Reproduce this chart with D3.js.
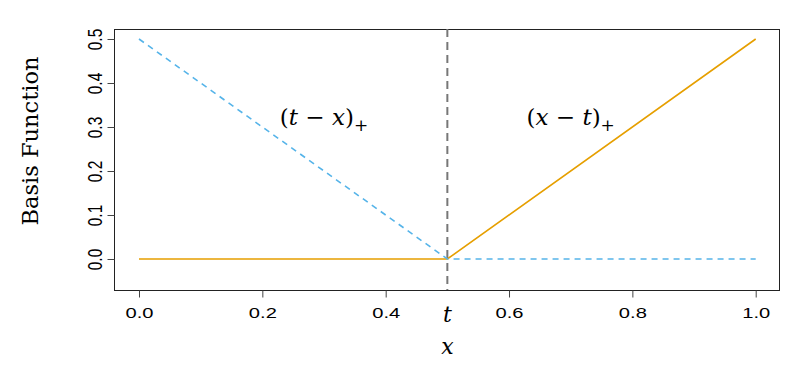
<!DOCTYPE html>
<meta charset="utf-8">
<style>
body { margin: 0; padding: 0; background: #fff; }
svg { display: block; }
.serif { font-family: "DejaVu Serif", "Liberation Serif", serif; }
</style>
<body>
<svg id="chart" width="812" height="384"></svg>
<script src="https://cdn.jsdelivr.net/npm/d3@7"></script>
<script>

// knot and evaluation points
var knot = 0.5;
var xs = [0, 0.5, 1];
// (t - x)+ and (x - t)+ evaluated at xs
var leftBasis = [0.5, 0, 0];
var rightBasis = [0, 0, 0.5];

var xTicks = [0, 0.2, 0.4, 0.6, 0.8, 1.0];
var yTicks = [0, 0.1, 0.2, 0.3, 0.4, 0.5];

var box = {left: 114, top: 29, right: 779, bottom: 290};
// the source image is stretched sideways, so tick glyphs are too
var stretch = 1.3;

var svg = d3.select("#chart");

var x = d3.scaleLinear().domain([0, 1]).range([139, 755.7]);
var y = d3.scaleLinear().domain([0, 0.5]).range([259, 39]);

// plot frame
svg.append("rect")
  .attr("x", box.left + 0.5)
  .attr("y", box.top + 0.5)
  .attr("width", box.right - box.left)
  .attr("height", box.bottom - box.top)
  .attr("fill", "none")
  .attr("stroke", "#222")
  .attr("stroke-width", 1);

// x axis
var xAxis = svg.append("g")
  .attr("transform", "translate(0," + (box.bottom + 0.5) + ")")
  .call(d3.axisBottom(x).tickValues(xTicks).tickFormat(d3.format(".1f")).tickSize(7).tickPadding(10));
xAxis.select(".domain").remove();
xAxis.attr("font-family", "'Liberation Sans', Arial, sans-serif").attr("font-size", 15.5);
xAxis.selectAll(".tick line").attr("stroke", "#444");
xAxis.selectAll(".tick text")
  .attr("fill", "#000")
  .attr("transform", "scale(" + stretch + ",1)");

// the t tick label
svg.append("text")
  .attr("class", "serif")
  .attr("x", x(knot))
  .attr("y", 322)
  .attr("text-anchor", "middle")
  .attr("font-style", "italic")
  .attr("font-size", 22)
  .text("t");

// y axis
var yAxis = svg.append("g")
  .attr("transform", "translate(" + (box.left + 0.5) + ",0)")
  .call(d3.axisLeft(y).tickValues(yTicks).tickFormat(d3.format(".1f")).tickSize(7).tickPadding(6));
yAxis.select(".domain").remove();
yAxis.attr("font-family", "'Liberation Sans', Arial, sans-serif").attr("font-size", 15.5);
yAxis.selectAll(".tick line").attr("stroke", "#444");
yAxis.selectAll(".tick text")
  .attr("x", 0)
  .attr("dy", 0)
  .attr("fill", "#000")
  .attr("text-anchor", "middle")
  .attr("transform", "translate(-12.5,0) scale(" + stretch + ",1) rotate(-90)");

// axis titles
svg.append("text")
  .attr("class", "serif")
  .attr("transform", "translate(38,141) rotate(-90)")
  .attr("text-anchor", "middle")
  .attr("font-size", 22.5)
  .text("Basis Function");

svg.append("text")
  .attr("class", "serif")
  .attr("x", x(knot))
  .attr("y", 354)
  .attr("text-anchor", "middle")
  .attr("font-style", "italic")
  .attr("font-size", 22)
  .text("x");

// vertical line at the knot
svg.append("line")
  .attr("x1", x(knot)).attr("x2", x(knot))
  .attr("y1", box.top).attr("y2", box.bottom)
  .attr("stroke", "#777")
  .attr("stroke-width", 2)
  .attr("stroke-dasharray", "8,5");

var line = d3.line()
  .x(function(d, i) { return x(xs[i]); })
  .y(function(d) { return y(d); });

svg.append("path")
  .datum(rightBasis)
  .attr("d", line)
  .attr("fill", "none")
  .attr("stroke", "#E69F00")
  .attr("stroke-width", 1.6);

svg.append("path")
  .datum(leftBasis)
  .attr("d", line)
  .attr("fill", "none")
  .attr("stroke", "#56B4E9")
  .attr("stroke-width", 1.6)
  .attr("stroke-dasharray", "6,5");

// curve labels
function label(px, py, a, b) {
  var t = svg.append("text")
    .attr("class", "serif")
    .attr("x", x(px))
    .attr("y", y(py))
    .attr("text-anchor", "middle")
    .attr("font-size", 23);
  t.append("tspan").text("(");
  t.append("tspan").attr("font-style", "italic").text(a);
  t.append("tspan").text(" \u2212 ");
  t.append("tspan").attr("font-style", "italic").text(b);
  t.append("tspan").text(")");
  t.append("tspan").attr("dy", 6).attr("font-size", 17).text("+");
}
label(0.3, 0.305, "t", "x");
label(0.7, 0.305, "x", "t");

</script>
